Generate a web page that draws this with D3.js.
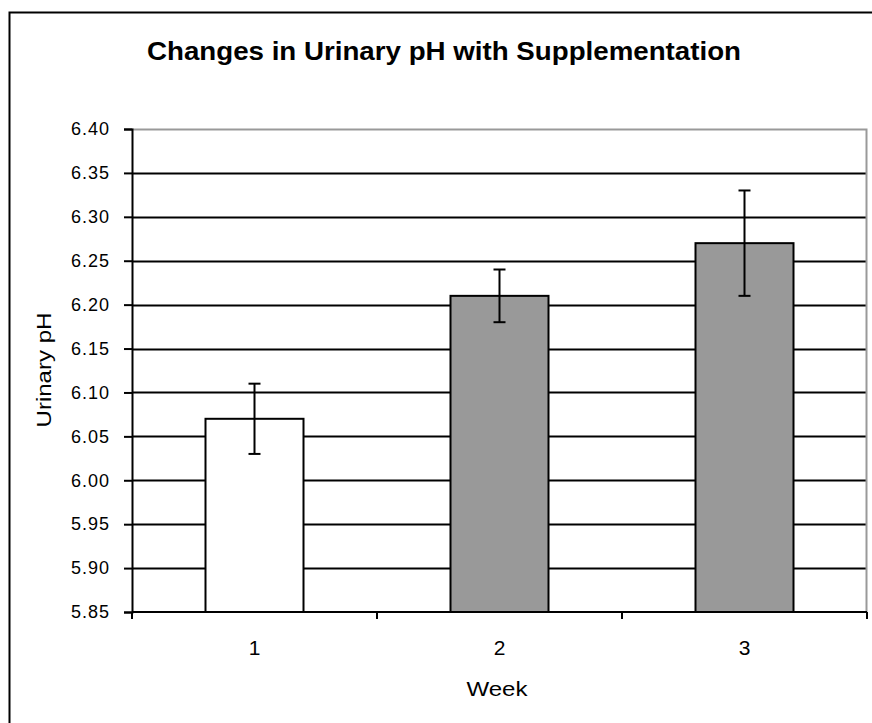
<!DOCTYPE html>
<html>
<head>
<meta charset="utf-8">
<script src="https://cdn.jsdelivr.net/npm/d3@7"></script>
<style>
  body { margin: 0; background: #fff; }
  text { font-family: "Liberation Sans", Arial, sans-serif; fill: #000; }
</style>
</head>
<body>
<div id="chart"></div>
<script>
// Chart data
var weeks = ["1", "2", "3"];
var meanPH = [6.07, 6.21, 6.27];
var errPH = [0.04, 0.03, 0.06];
var barColors = ["#ffffff", "#999999", "#999999"];
var yTicks = [5.85, 5.90, 5.95, 6.00, 6.05, 6.10, 6.15, 6.20, 6.25, 6.30, 6.35, 6.40];

var W = 872, H = 723;
var margin = {top: 129, right: 5, bottom: 111, left: 132};
var width = W - margin.left - margin.right,
    height = H - margin.top - margin.bottom;

var svg = d3.select("#chart").append("svg")
  .attr("width", W)
  .attr("height", H);

// outer frame (only left and top edges are visible in the picture)
svg.append("rect")
  .attr("x", 9.5).attr("y", 12.5)
  .attr("width", W + 20).attr("height", H + 20)
  .attr("fill", "#fff").attr("stroke", "#000").attr("stroke-width", 2);

svg.append("text")
  .attr("x", 444).attr("y", 60)
  .attr("text-anchor", "middle")
  .attr("font-size", 26).attr("font-weight", "bold")
  .attr("textLength", 594).attr("lengthAdjust", "spacingAndGlyphs")
  .text("Changes in Urinary pH with Supplementation");

var g = svg.append("g")
  .attr("transform", "translate(" + margin.left + "," + margin.top + ")");

var x = d3.scaleBand().domain(weeks).range([0, width]).paddingInner(0.6).paddingOuter(0.3);
var xBand = d3.scaleBand().domain(weeks).range([0, width]);
var y = d3.scaleLinear().domain([5.85, 6.40]).range([height, 0]);

// gridlines
g.selectAll(".grid").data(yTicks.slice(1, -1))
  .enter().append("line")
  .attr("x1", 0).attr("x2", width)
  .attr("y1", function(d) { return Math.round(y(d)) + 0.5; })
  .attr("y2", function(d) { return Math.round(y(d)) + 0.5; })
  .attr("stroke", "#000").attr("stroke-width", 2);

// plot border (top & right, grey)
g.append("path")
  .attr("d", "M0," + (Math.round(y(6.40)) + 0.5) + "H" + (width - 0.5) + "V" + height)
  .attr("fill", "none").attr("stroke", "#999").attr("stroke-width", 2);

// bars
g.selectAll(".bar").data(weeks)
  .enter().append("rect")
  .attr("x", function(d) { return x(d); })
  .attr("width", x.bandwidth())
  .attr("y", function(d, i) { return y(meanPH[i]); })
  .attr("height", function(d, i) { return height - y(meanPH[i]); })
  .attr("fill", function(d, i) { return barColors[i]; })
  .attr("stroke", "#000").attr("stroke-width", 2);

// error bars
var eb = g.selectAll(".err").data(weeks).enter().append("g");
eb.append("line")
  .attr("x1", function(d) { return x(d) + x.bandwidth() / 2; })
  .attr("x2", function(d) { return x(d) + x.bandwidth() / 2; })
  .attr("y1", function(d, i) { return y(meanPH[i] + errPH[i]); })
  .attr("y2", function(d, i) { return y(meanPH[i] - errPH[i]); })
  .attr("stroke", "#000").attr("stroke-width", 2);
[1, -1].forEach(function(s) {
  eb.append("line")
    .attr("x1", function(d) { return x(d) + x.bandwidth() / 2 - 6; })
    .attr("x2", function(d) { return x(d) + x.bandwidth() / 2 + 6; })
    .attr("y1", function(d, i) { return y(meanPH[i] + s * errPH[i]); })
    .attr("y2", function(d, i) { return y(meanPH[i] + s * errPH[i]); })
    .attr("stroke", "#000").attr("stroke-width", 2);
});

// y axis
var yAxis = g.append("g")
  .call(d3.axisLeft(y).tickValues(yTicks).tickSize(8).tickPadding(14)
    .tickFormat(d3.format(".2f")));
yAxis.select(".domain").attr("stroke-width", 2);
yAxis.selectAll(".tick line").attr("stroke-width", 2);
yAxis.selectAll("text")
  .attr("font-size", 18)
  .attr("letter-spacing", 1)
  .attr("font-family", "Liberation Sans, Arial, sans-serif");

// x axis: ticks at category boundaries
var xg = g.append("g").attr("transform", "translate(0," + height + ")");
xg.append("line").attr("x1", 0).attr("x2", width).attr("stroke", "#000").attr("stroke-width", 2);
var bounds = weeks.map(function(d) { return xBand(d); }).concat([width]);
xg.selectAll(".xt").data(bounds).enter().append("line")
  .attr("x1", function(d) { return d; }).attr("x2", function(d) { return d; })
  .attr("y1", 0).attr("y2", 7)
  .attr("stroke", "#000").attr("stroke-width", 2);
xg.selectAll(".xl").data(weeks).enter().append("text")
  .attr("x", function(d) { return xBand(d) + xBand.bandwidth() / 2; })
  .attr("y", 43)
  .attr("text-anchor", "middle")
  .attr("font-size", 21)
  .text(function(d) { return d; });

svg.append("text")
  .attr("x", 497).attr("y", 696)
  .attr("text-anchor", "middle")
  .attr("font-size", 21)
  .attr("textLength", 61).attr("lengthAdjust", "spacingAndGlyphs")
  .text("Week");

svg.append("text")
  .attr("transform", "translate(51,370) rotate(-90)")
  .attr("text-anchor", "middle")
  .attr("font-size", 20)
  .attr("textLength", 115).attr("lengthAdjust", "spacingAndGlyphs")
  .text("Urinary pH");
</script>
</body>
</html>
